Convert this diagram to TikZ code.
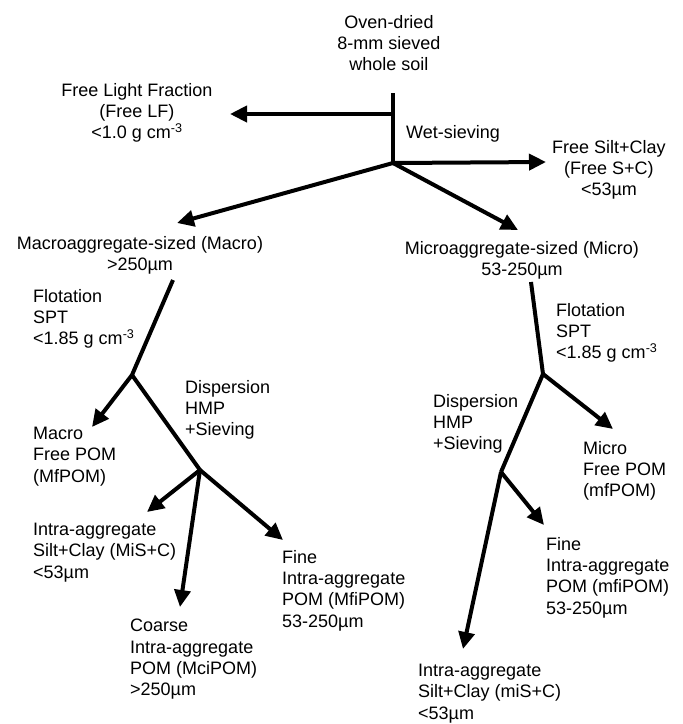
\documentclass[tikz,border=0pt]{standalone}
\usepackage{fontspec}
\setmainfont{Liberation Sans}
\usepackage{tikz}
\usetikzlibrary{arrows.meta}

\begin{document}
\begin{tikzpicture}[x=1pt, y=-1pt,
  ctext/.style={anchor=north, inner sep=0pt, align=center, font=\fontsize{18}{21.3}\selectfont},
  ltext/.style={anchor=north west, inner sep=0pt, align=left, font=\fontsize{18}{21.3}\selectfont},
  stem/.style={line width=4pt, black},
  arrow/.style={line width=4pt, black, -{Triangle[length=17pt, width=16pt]}}
]
  \useasboundingbox (0,0) rectangle (683,724);

  % fractions
  \node[ctext] (soil) at (389,15) {Oven-dried\\8-mm sieved\\whole soil};
  \node[ctext] (freelf) at (137,83) {Free Light Fraction\\(Free LF)\\<1.0 g cm\textsuperscript{-3}};
  \node[ltext] (wet) at (406,125) {Wet-sieving};
  \node[ctext] (freesc) at (609,140) {Free Silt+Clay\\(Free S+C)\\<53µm};
  \node[ctext] (macro) at (140,236) {Macroaggregate-sized (Macro)\\>250µm};
  \node[ctext] (micro) at (522,241) {Microaggregate-sized (Micro)\\53-250µm};

  \node[ltext] (macflot) at (33,289) {Flotation\\SPT\\<1.85 g cm\textsuperscript{-3}};
  \node[ltext] (micflot) at (556,303) {Flotation\\SPT\\<1.85 g cm\textsuperscript{-3}};
  \node[ltext] (macdisp) at (185,380) {Dispersion\\HMP\\+Sieving};
  \node[ltext] (micdisp) at (433,394) {Dispersion\\HMP\\+Sieving};

  \node[ltext] (MfPOM) at (33,427) {Macro\\Free POM\\(MfPOM)};
  \node[ltext] (mfPOM) at (583,441) {Micro\\Free POM\\(mfPOM)};
  \node[ltext] (MiSC) at (33,523) {Intra-aggregate\\Silt+Clay (MiS+C)\\<53µm};
  \node[ltext] (MciPOM) at (130,619) {Coarse\\Intra-aggregate\\POM (MciPOM)\\>250µm};
  \node[ltext] (MfiPOM) at (282,550) {Fine\\Intra-aggregate\\POM (MfiPOM)\\53-250µm};
  \node[ltext] (mfiPOM) at (546,537) {Fine\\Intra-aggregate\\POM (mfiPOM)\\53-250µm};
  \node[ltext] (miSC) at (418,664) {Intra-aggregate\\Silt+Clay (miS+C)\\<53µm};

  % junctions and arrow ends
  \coordinate (wtop) at (393,93);
  \coordinate (wlf) at (393,114);
  \coordinate (wj) at (393,163);
  \coordinate (lfend) at (230,114);
  \coordinate (scend) at (546,162);
  \coordinate (macend) at (177,223);
  \coordinate (micend) at (518,230);

  \coordinate (mactop) at (173,280);
  \coordinate (macj) at (132,375);
  \coordinate (macj2) at (200,470);
  \coordinate (MfPOMend) at (92,427);
  \coordinate (MiSCend) at (147,512);
  \coordinate (MciPOMend) at (180,607);
  \coordinate (MfiPOMend) at (283,540);

  \coordinate (mictop) at (531,282);
  \coordinate (micj) at (543,374);
  \coordinate (micj2) at (501,472);
  \coordinate (mfPOMend) at (613,429);
  \coordinate (mfiPOMend) at (544,525);
  \coordinate (miSCend) at (463,649);

  % wet-sieving
  \draw[stem] (wtop) -- (wj);
  \draw[arrow] (wlf) -- (lfend);
  \draw[arrow] (wj) -- (scend);
  \draw[arrow] (wj) -- (macend);
  \draw[arrow] (wj) -- (micend);

  % macroaggregates
  \draw[stem] (mactop) -- (macj);
  \draw[arrow] (macj) -- (MfPOMend);
  \draw[stem] (macj) -- (macj2);
  \draw[arrow] (macj2) -- (MiSCend);
  \draw[arrow] (macj2) -- (MciPOMend);
  \draw[arrow] (macj2) -- (MfiPOMend);

  % microaggregates
  \draw[stem] (mictop) -- (micj);
  \draw[arrow] (micj) -- (mfPOMend);
  \draw[stem] (micj) -- (micj2);
  \draw[arrow] (micj2) -- (mfiPOMend);
  \draw[arrow] (micj2) -- (miSCend);
\end{tikzpicture}
\end{document}
